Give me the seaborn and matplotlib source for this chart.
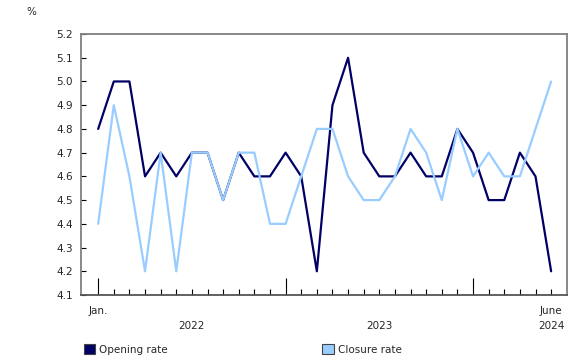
import numpy as np
import pandas as pd
import matplotlib
matplotlib.use("Agg")
import matplotlib.pyplot as plt
from matplotlib.patches import Patch
import seaborn as sns

sns.set_theme(style="white")
plt.rcParams["font.family"] = ["DejaVu Sans"]

# ----- donnees (mensuelles, janv. 2022 -> juin 2024) -----
mois = pd.date_range("2022-01-01", "2024-06-01", freq="MS")
taux_ouverture = [4.8, 5.0, 5.0, 4.6, 4.7, 4.6, 4.7, 4.7, 4.5, 4.7, 4.6, 4.6,
                  4.7, 4.6, 4.2, 4.9, 5.1, 4.7, 4.6, 4.6, 4.7, 4.6, 4.6, 4.8,
                  4.7, 4.5, 4.5, 4.7, 4.6, 4.2]
taux_fermeture = [4.4, 4.9, 4.6, 4.2, 4.7, 4.2, 4.7, 4.7, 4.5, 4.7, 4.7, 4.4,
                  4.4, 4.6, 4.8, 4.8, 4.6, 4.5, 4.5, 4.6, 4.8, 4.7, 4.5, 4.8,
                  4.6, 4.7, 4.6, 4.6, 4.8, 5.0]
series = ["Opening rate", "Closure rate"]
couleurs = {"Opening rate": "#000066", "Closure rate": "#99ccff"}

# format long pour seaborn (x = index du mois)
idx = np.arange(len(mois))
df = pd.DataFrame({
    "mois": np.concatenate([idx, idx]),
    "taux": taux_ouverture + taux_fermeture,
    "serie": [series[0]] * len(idx) + [series[1]] * len(idx),
})

fig = plt.figure(figsize=(5.81, 3.63), dpi=100)
ax = fig.add_axes([0.1394, 0.1873, 0.8366, 0.719])

# fermeture dessinee par-dessus l'ouverture (comme dans l'original)
sns.lineplot(data=df, x="mois", y="taux", hue="serie", hue_order=series,
             palette=couleurs, linewidth=1.6, ax=ax, legend=False)

ax.set_xlim(-1.1, len(idx) - 1 + 1.02)
ax.set_ylim(4.1, 5.2)
ax.set_yticks(np.round(np.arange(4.1, 5.21, 0.1), 1))
ax.set_yticklabels([f"{v:.1f}" for v in np.arange(4.1, 5.21, 0.1)], fontsize=7.5)
ax.set_xlabel("")
ax.set_ylabel("")

# graduations : petites pour chaque mois, grandes en janvier
janv = [i for i, m in enumerate(mois) if m.month == 1]
ax.set_xticks(janv)
ax.set_xticks(idx, minor=True)
ax.set_xticklabels([])
ax.tick_params(axis="x", which="major", direction="in", length=12, width=0.8,
               color="black", bottom=True)
ax.tick_params(axis="x", which="minor", direction="in", length=4.2, width=0.8,
               color="black", bottom=True)
ax.tick_params(axis="y", direction="in", length=3.5, width=0.8, color="black",
               left=True, pad=6)

for s in ax.spines.values():
    s.set_color("#808080")
    s.set_linewidth(1.3)
ax.spines["bottom"].set_color("#555555")

# etiquettes de mois et d'annees
tr = ax.get_xaxis_transform()
ax.text(0, -0.042, "Jan.", transform=tr, ha="center", va="top", fontsize=7.5)
ax.text(idx[-1], -0.042, "June", transform=tr, ha="center", va="top", fontsize=7.5)
annees = ["2022", "2023", "2024"]
pos_annees = [6, 18, idx[-1]]
for a, p in zip(annees, pos_annees):
    ax.text(p, -0.1, a, transform=tr, ha="center", va="top", fontsize=7.5)

fig.text(0.045, 0.968, "%", ha="left", va="center", fontsize=7.5)

handles = [Patch(facecolor=couleurs[s], edgecolor="#444444", linewidth=0.8)
           for s in series]
fig.legend(handles, series, loc="lower left", bbox_to_anchor=(0.128, -0.003),
           ncol=2, frameon=False, fontsize=7.5, handlelength=1.1,
           handleheight=1.1, handletextpad=0.4, columnspacing=14.8)

fig.savefig("out.png", dpi=100)
